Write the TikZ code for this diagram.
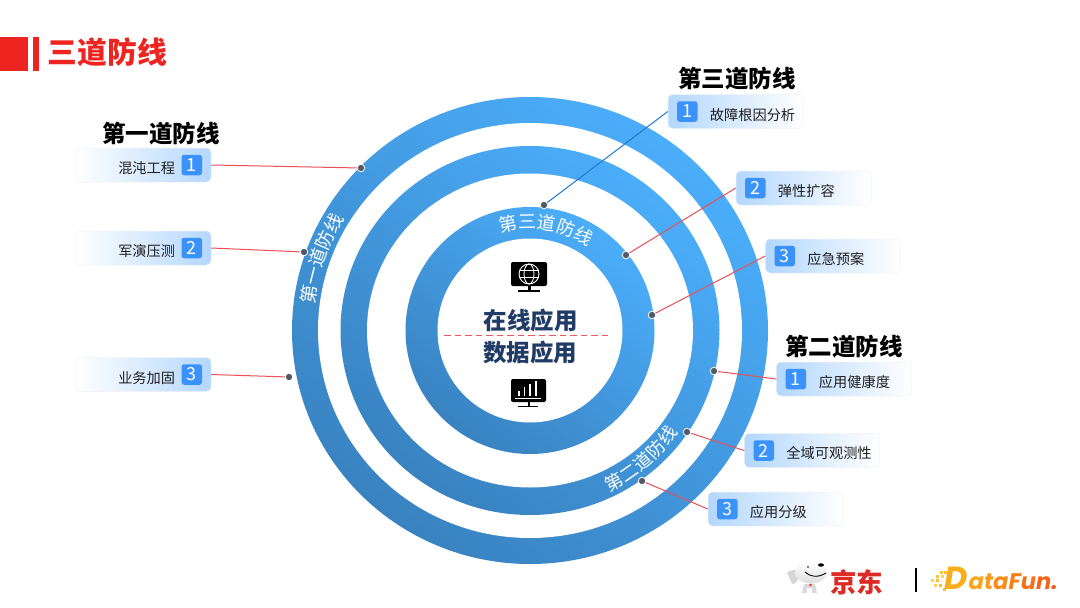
\documentclass[tikz,border=0pt]{standalone}
\usepackage{fontspec}
\setmainfont{Noto Sans CJK SC}
\newfontfamily\logofont{Poppins}
\usetikzlibrary{decorations.text,calc}
\definecolor{ringlight}{HTML}{4BAEFB}
\definecolor{ringmid}{HTML}{47A4EE}
\definecolor{ringdark}{HTML}{3982C0}
\definecolor{linered}{HTML}{EC4F55}
\definecolor{dashred}{HTML}{F2555A}
\definecolor{lineblue}{HTML}{1F78C8}
\definecolor{dotgrey}{HTML}{4F5B6B}
\definecolor{boxblue}{HTML}{B3D7FD}
\definecolor{boxpink}{HTML}{FBE9EA}
\definecolor{boxedge}{HTML}{F1F2F6}
\definecolor{badgeblue}{HTML}{3C92FB}
\definecolor{navy}{HTML}{1F3B66}
\definecolor{titlered}{HTML}{EE2420}
\definecolor{jdred}{HTML}{DB2B24}
\tikzset{
  x=1pt,y=-1pt,
  ringshade/.style={top color=ringlight,middle color=ringmid,bottom color=ringdark,shading angle=-38},
  hole/.style={fill=white},
  ringtext/.style={decorate,decoration={text along path,text align=center,text color=white,text={#1}}},
  ringfit/.style={decorate,decoration={text along path,text align={fit to path},text color=white,text={#1}}},
  heading/.style={font=\fontsize{23.5}{26}\selectfont\bfseries,text=black,inner sep=0pt},
  centertext/.style={font=\fontsize{23.5}{26}\selectfont\bfseries,text=navy,inner sep=0pt},
  itemtext/.style={font=\fontsize{14.2}{16}\selectfont,text=black!88,inner sep=0pt},
  boxbase/.style={minimum width=135pt,minimum height=34pt,inner sep=0pt,rounded corners=4.5pt,draw=boxedge,line width=.5pt},
  boxL/.style={boxbase,left color=white,middle color=boxpink,right color=boxblue},
  boxR/.style={boxbase,left color=boxblue,middle color=boxpink,right color=white},
  badge/.style={fill=badgeblue,rounded corners=2.5pt,minimum width=20.5pt,minimum height=20.5pt,inner sep=0pt,text=white,font=\fontsize{18}{20}\selectfont},
  dotn/.style={circle,fill=dotgrey,draw=white,line width=.8pt,minimum size=7.5pt,inner sep=0pt},
  leadred/.style={draw=linered,line width=1pt},
  leadblue/.style={draw=lineblue,line width=1pt},
  iconw/.style={draw=white,line width=.9pt},
}
\begin{document}
\begin{tikzpicture}
\useasboundingbox (0,0) rectangle (1080,608);
\fill[white] (0,0) rectangle (1080,608);
\coordinate (c) at (530,330.5);
% title
\fill[titlered] (0,37) rectangle (27.5,70.5);
\fill[titlered] (32.5,37) rectangle (38.5,70.5);
\node[anchor=west,inner sep=0pt,text=titlered,font=\fontsize{29.8}{32}\selectfont\bfseries] (title) at (47.5,52.5) {三道防线};
% rings
\shade[ringshade] (c) ellipse[x radius=238pt,y radius=233.5pt];
\fill[hole] (c) ellipse[x radius=212pt,y radius=207.5pt];
\shade[ringshade] (c) ellipse[x radius=189.5pt,y radius=184.5pt];
\fill[hole] (c) ellipse[x radius=163pt,y radius=157pt];
\shade[ringshade] (c) ellipse[x radius=124.5pt,y radius=123.5pt];
\fill[hole] (c) ellipse[x radius=92.5pt,y radius=92pt];
% ring texts
\path[ringtext={|\fontsize{18.5}{20}\selectfont|第一道防线}] (c) ++(186:217pt) arc[start angle=186,end angle=136,radius=217pt];
\path[ringfit={|\fontsize{18}{20}\selectfont|第二道防线}] (c) ++(-64:180pt) arc[start angle=-64,end angle=-34.5,radius=180pt];
\path[ringtext={|\fontsize{18.2}{20}\selectfont|第三道防线}] (c) ++(121:102pt) arc[start angle=121,end angle=41,radius=102pt];
% centre text and dashed divider
\foreach \i in {0,...,15}{
  \fill[dashred] ({444+10.5*\i},335) rectangle ({450.5+10.5*\i},336.2);
}
\node[centertext] (online) at (530.5,320.5) {在线应用};
\node[centertext] (data) at (530,352.5) {数据应用};
% globe icon
\fill[black,rounded corners=2pt] (511,262) rectangle (547,286);
\fill[black] (528,286) rectangle (530.5,291);
\fill[black] (518,290) rectangle (540,292);
\draw[iconw] (529,274) circle[radius=10pt];
\draw[iconw] (529,274) ellipse[x radius=5pt,y radius=10pt];
\draw[iconw] (519.5,270.5) -- (538.5,270.5);
\draw[iconw] (519.5,277.5) -- (538.5,277.5);
% chart icon
\fill[black,rounded corners=2pt] (511,379) rectangle (546,402);
\fill[black] (527.5,402) rectangle (530,406);
\fill[black] (518,405.5) rectangle (538,407);
\draw[white,line width=1pt] (515,398) -- (541,398);
\foreach \bx/\by in {519/391,524.5/387,530/384,536/381}{\draw[white,line width=1.4pt] (\bx,396) -- (\bx,\by);}
% boxes
\node[boxL] (a1) at (143.5,165) {};
\node[boxL] (a2) at (143.5,248) {};
\node[boxL] (a3) at (143.5,374.5) {};
\node[boxR] (b1) at (844,379) {};
\node[boxR] (b2) at (812,450.5) {};
\node[boxR] (b3) at (775.5,509) {};
\node[boxR] (t1) at (735.5,111.5) {};
\node[boxR] (t2) at (803.5,188) {};
\node[boxR] (t3) at (833,256) {};
% dot positions
\coordinate (p11) at (361,168);
\coordinate (p12) at (304,252);
\coordinate (p13) at (289,377);
\coordinate (p21) at (714,371);
\coordinate (p22) at (687,432);
\coordinate (p23) at (642,481);
\coordinate (p31) at (544,205);
\coordinate (p32) at (626,255);
\coordinate (p33) at (652,315);
% leaders
\draw[leadred] (a1.east) -- (p11);
\draw[leadred] (a2.east) -- (p12);
\draw[leadred] (a3.east) -- (p13);
\draw[leadred] (b1.west) -- (p21);
\draw[leadred] (b2.west) -- (p22);
\draw[leadred] (b3.west) -- (p23);
\draw[leadblue] (t1.west) -- (p31);
\draw[leadred] (t2.west) -- (p32);
\draw[leadred] (t3.west) -- (p33);
% dots
\node[dotn] (d11) at (p11) {};
\node[dotn] (d12) at (p12) {};
\node[dotn] (d13) at (p13) {};
\node[dotn] (d21) at (p21) {};
\node[dotn] (d22) at (p22) {};
\node[dotn] (d23) at (p23) {};
\node[dotn] (d31) at (p31) {};
\node[dotn] (d32) at (p32) {};
\node[dotn] (d33) at (p33) {};
% badges and labels
\node[badge] (na1) at ($(a1.east)+(-19.5,0)$) {1};
\node[badge] (na2) at ($(a2.east)+(-19.5,0)$) {2};
\node[badge] (na3) at ($(a3.east)+(-19.5,0)$) {3};
\node[badge] (nb1) at ($(b1.west)+(19.5,0)$) {1};
\node[badge] (nb2) at ($(b2.west)+(19.5,0)$) {2};
\node[badge] (nb3) at ($(b3.west)+(19.5,0)$) {3};
\node[badge] (nt1) at ($(t1.west)+(19.5,0)$) {1};
\node[badge] (nt2) at ($(t2.west)+(19.5,0)$) {2};
\node[badge] (nt3) at ($(t3.west)+(19.5,0)$) {3};
\node[itemtext,anchor=east] (la1) at ($(a1.east)+(-36,3.5)$) {混沌工程};
\node[itemtext,anchor=east] (la2) at ($(a2.east)+(-36,3.5)$) {军演压测};
\node[itemtext,anchor=east] (la3) at ($(a3.east)+(-36,3.5)$) {业务加固};
\node[itemtext,anchor=west] (lb1) at ($(b1.west)+(42.5,3)$) {应用健康度};
\node[itemtext,anchor=west] (lb2) at ($(b2.west)+(42,3)$) {全域可观测性};
\node[itemtext,anchor=west] (lb3) at ($(b3.west)+(42,3.5)$) {应用分级};
\node[itemtext,anchor=west] (lt1) at ($(t1.west)+(42,3.5)$) {故障根因分析};
\node[itemtext,anchor=west] (lt2) at ($(t2.west)+(42,3.5)$) {弹性扩容};
\node[itemtext,anchor=west] (lt3) at ($(t3.west)+(42,3.5)$) {应急预案};
% headings
\node[heading] (h1) at (161,133.5) {第一道防线};
\node[heading] (h3) at (737,78.5) {第三道防线};
\node[heading] (h2) at (844,346.5) {第二道防线};
% JD logo
\fill[black!16] (787,573) .. controls (790,570) and (795,569) .. (799,570) .. controls (801,576) and (797,584) .. (793,584) .. controls (790,583) and (790,576) .. (787,573);
\fill[black!14] (804,584) -- (815,584) -- (817,593) -- (802,593) -- cycle;
\fill[white] (807,588) rectangle (812,594);
\shade[top color=white,bottom color=black!13] (811,572.5) ellipse[x radius=16pt,y radius=11pt];
\fill[black] (821,565) ellipse[x radius=3pt,y radius=1.7pt];
\fill[black] (808,567) circle[radius=.9pt];
\draw[black,line width=.9pt] (805,572) .. controls (810,577) and (818,578) .. (826,573);
\fill[jdred] (810.5,585) circle[radius=1.3pt];
\node[inner sep=0pt,text=jdred,font=\fontsize{26.5}{28}\selectfont\bfseries] (jd) at (856.5,582) {京东};
\coordinate (sa) at (916,568);
\coordinate (sb) at (916,592);
\draw[black,line width=1.2pt] (sa) -- (sb);
% DataFun logo
\foreach \qx/\qy/\qc in {940/571/F9C22E,944/571/F9C22E,936/575/F9C22E,941/575/FBD25A,931/579/FBD25A,936/579/F9C22E,934/584/FBD25A,939/584/F9C22E,943/588/F9C22E}{
  \definecolor{qq}{HTML}{\qc}
  \fill[qq] (\qx,\qy) rectangle ++(3.4,3.4);
}
\node[anchor=base west,inner sep=0pt,font=\fontsize{32}{34}\selectfont\logofont\bfseries\itshape] (dfd) at (944,589) {\textcolor[HTML]{F9AE1E}{D}};
\node[anchor=base west,inner sep=0pt,font=\fontsize{22.6}{24}\selectfont\logofont\bfseries\itshape] (dfr) at (968.5,589) {\textcolor[HTML]{F9A51E}{a}\textcolor[HTML]{F89A1C}{t}\textcolor[HTML]{F78E1B}{a}\textcolor[HTML]{F6801A}{F}\textcolor[HTML]{F47219}{u}\textcolor[HTML]{F26518}{n}\textcolor[HTML]{F05A17}{.}};
\end{tikzpicture}
\end{document}
